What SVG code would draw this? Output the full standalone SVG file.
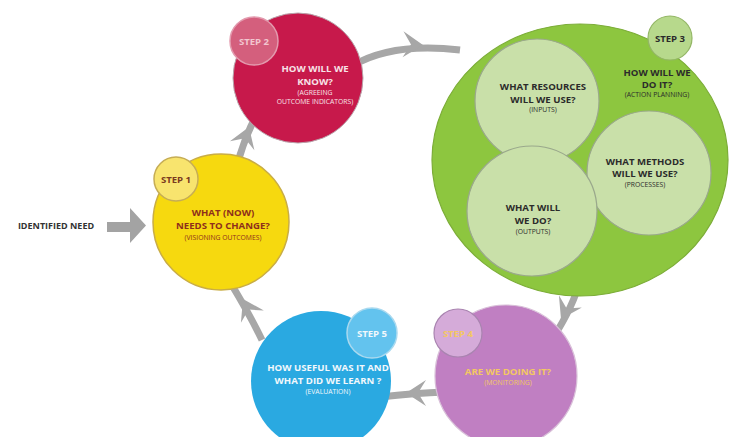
<svg xmlns="http://www.w3.org/2000/svg" width="729" height="437" viewBox="0 0 729 437">
  <defs>
    <style>
      text { font-family: "Open Sans", "Noto Sans", "Liberation Sans", sans-serif; text-anchor: middle; }
      .h { font-size: 9.6px; font-weight: 700; }
      .s { font-size: 6.8px; font-weight: 400; }
      .tag { font-size: 9.6px; font-weight: 700; }
      .flow { fill: none; stroke: #a7a7a7; stroke-width: 7; stroke-linecap: butt; }
      .inner { fill: #c9e0a9; stroke: #9aa88c; stroke-width: 1.2; }
      .dark { fill: #2b2b2b; }
    </style>
    <!-- notched arrowhead, tip at origin, pointing along +x -->
    <polygon id="head" points="0,0 -20,-13 -12,0 -20,13" fill="#a7a7a7"/>
  </defs>

  <rect width="729" height="437" fill="#ffffff"/>

  <!-- connectors -->
  <g id="connectors">
    <path class="flow" d="M 236 170 Q 243 140 258 112"/>
    <use href="#head" transform="translate(249,127) rotate(-70)"/>

    <path class="flow" d="M 352 66 Q 392 42 460 50"/>
    <use href="#head" transform="translate(423,45) rotate(2)"/>

    <path class="flow" d="M 580 280 Q 574 305 553 338"/>
    <use href="#head" transform="translate(561,319) rotate(118)"/>

    <path class="flow" d="M 445 392 Q 415 393 380 397"/>
    <use href="#head" transform="translate(406,393) rotate(180)"/>

    <path class="flow" d="M 262 340 Q 250 315 230 282"/>
    <use href="#head" transform="translate(243,299) rotate(-118)"/>

    <!-- entry arrow -->
    <polygon points="107,222 130,222 130,208 146,225.5 130,243 130,232 107,232" fill="#a3a3a3"/>
  </g>

  <g id="identified-need">
    <text x="56" y="229" class="h" style="font-size:9px" fill="#333333">IDENTIFIED NEED</text>
  </g>

  <!-- step 1 -->
  <g id="step1">
    <circle cx="221" cy="222" r="68" fill="#f6d90f" stroke="#c9ad45" stroke-width="1.5"/>
    <circle cx="176" cy="179" r="22" fill="#f8e46e" stroke="#c6ad55" stroke-width="1.5"/>
    <text x="176" y="182.5" class="tag" fill="#7b3a1f">STEP 1</text>
    <text x="223" y="216" class="h" fill="#8e2e1c">WHAT (NOW)</text>
    <text x="223" y="229" class="h" fill="#8e2e1c">NEEDS TO CHANGE?</text>
    <text x="223" y="240" class="s" fill="#8e2e1c">(VISIONING OUTCOMES)</text>
  </g>

  <!-- step 2 -->
  <g id="step2">
    <circle cx="298" cy="78" r="65" fill="#c7194b" stroke="#b9a6ad" stroke-width="1"/>
    <circle cx="254" cy="41" r="24" fill="#d45f7d" stroke="#e39aae" stroke-width="1.5"/>
    <text x="254" y="44.5" class="tag" fill="#f2c5cf">STEP 2</text>
    <text x="315" y="72" class="h" fill="#f7e2e7">HOW WILL WE</text>
    <text x="315" y="85" class="h" fill="#f7e2e7">KNOW?</text>
    <text x="315" y="95" class="s" fill="#f7e2e7">(AGREEING</text>
    <text x="315" y="104" class="s" fill="#f7e2e7">OUTCOME INDICATORS)</text>
  </g>

  <!-- step 3 -->
  <g id="step3">
    <ellipse cx="580" cy="160" rx="148" ry="136" fill="#8dc63f" stroke="#7cad38" stroke-width="1.2"/>
    <circle cx="670" cy="38" r="22" fill="#b7d98c" stroke="#93b665" stroke-width="1.2"/>
    <text x="670" y="41.5" class="tag dark">STEP 3</text>
    <text x="657" y="76" class="h dark">HOW WILL WE</text>
    <text x="657" y="88" class="h dark">DO IT?</text>
    <text x="657" y="97" class="s dark">(ACTION PLANNING)</text>
  </g>

  <g id="inputs">
    <circle cx="537" cy="101" r="62" class="inner"/>
    <text x="543" y="90" class="h dark">WHAT RESOURCES</text>
    <text x="543" y="103" class="h dark">WILL WE USE?</text>
    <text x="543" y="112" class="s dark">(INPUTS)</text>
  </g>

  <g id="processes">
    <circle cx="649" cy="173" r="62" class="inner"/>
    <text x="645" y="165" class="h dark">WHAT METHODS</text>
    <text x="645" y="177" class="h dark">WILL WE USE?</text>
    <text x="645" y="187" class="s dark">(PROCESSES)</text>
  </g>

  <g id="outputs">
    <circle cx="532" cy="211" r="65" class="inner"/>
    <text x="533" y="211" class="h dark">WHAT WILL</text>
    <text x="533" y="224" class="h dark">WE DO?</text>
    <text x="533" y="234" class="s dark">(OUTPUTS)</text>
  </g>

  <!-- step 4 -->
  <g id="step4">
    <circle cx="506" cy="376" r="71" fill="#c07fc2" stroke="#d8bfd8" stroke-width="1.2"/>
    <circle cx="458" cy="333" r="24" fill="#d5abd9" stroke="#a984b0" stroke-width="1.2"/>
    <text x="458" y="336.5" class="tag" fill="#f3c763">STEP 4</text>
    <text x="508" y="375" class="h" fill="#f3c763">ARE WE DOING IT?</text>
    <text x="508" y="385" class="s" fill="#f3c763">(MONITORING)</text>
  </g>

  <!-- step 5 -->
  <g id="step5">
    <circle cx="321" cy="381" r="70" fill="#2aa9e1"/>
    <circle cx="372" cy="333" r="25" fill="#63c3ee" stroke="#a9d9ef" stroke-width="1.5"/>
    <text x="372" y="336.5" class="tag" fill="#f2f8fc">STEP 5</text>
    <text x="328" y="371" class="h" fill="#f2f8fc">HOW USEFUL WAS IT AND</text>
    <text x="328" y="384" class="h" fill="#f2f8fc">WHAT DID WE LEARN ?</text>
    <text x="328" y="394" class="s" fill="#f2f8fc">(EVALUATION)</text>
  </g>
</svg>
